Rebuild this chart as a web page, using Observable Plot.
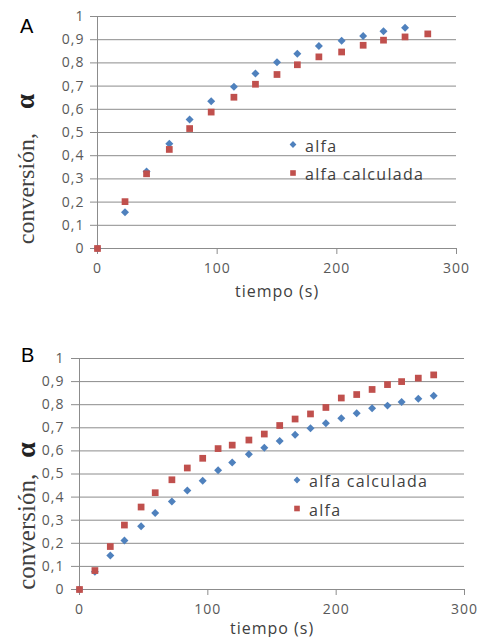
<!DOCTYPE html>
<html>
<head>
<meta charset="utf-8">
<script src="https://cdn.jsdelivr.net/npm/d3@7"></script>
<script src="https://cdn.jsdelivr.net/npm/@observablehq/plot@0.6"></script>
<style>
  html, body { margin: 0; padding: 0; background: #fff; }
  #root { position: relative; width: 480px; height: 637px; overflow: hidden; background: #fff; }
  .panel { position: absolute; left: 0; }
  #overlay { position: absolute; left: 0; top: 0; pointer-events: none; }
</style>
</head>
<body>
<div id="root">
  <div id="panelA" class="panel" style="top:0px"></div>
  <div id="panelB" class="panel" style="top:330px"></div>
  <svg id="overlay" width="480" height="637"></svg>
</div>
<script>
// ---------- data ----------
// Panel A
const timesA = [0, 23, 41, 60, 77, 95, 114, 132, 150, 167, 185, 204, 222, 239, 257, 276];
const alfaA = [0, 0.156, 0.332, 0.451, 0.556, 0.635, 0.697, 0.754, 0.803, 0.839, 0.873, 0.895, 0.916, 0.936, 0.951];
const alfaCalcA = [0, 0.202, 0.322, 0.427, 0.517, 0.588, 0.652, 0.708, 0.750, 0.792, 0.826, 0.847, 0.876, 0.898, 0.912, 0.925];
// Panel B
const timesB = [0, 12, 24, 35, 48, 59, 72, 84, 96, 108, 119, 132, 144, 156, 168, 180, 192, 204, 216, 228, 240, 251, 264, 276];
const alfaCalcB = [0, 0.077, 0.147, 0.212, 0.274, 0.331, 0.381, 0.429, 0.471, 0.516, 0.550, 0.585, 0.614, 0.643, 0.670, 0.698, 0.720, 0.741, 0.763, 0.785, 0.796, 0.812, 0.826, 0.839];
const alfaB = [0, 0.082, 0.186, 0.279, 0.357, 0.419, 0.475, 0.526, 0.568, 0.610, 0.625, 0.647, 0.673, 0.710, 0.738, 0.760, 0.788, 0.829, 0.844, 0.866, 0.887, 0.900, 0.915, 0.929];
// Axes
const xTicks = [0, 100, 200, 300];
const yTicks = [0, 0.1, 0.2, 0.3, 0.4, 0.5, 0.6, 0.7, 0.8, 0.9, 1];
const xLabel = "tiempo (s)";
const yLabel = "conversión,";
const yLabelSymbol = "α";
const legendA = ["alfa", "alfa calculada"];
const legendB = ["alfa calculada", "alfa"];
const panelLetters = ["A", "B"];

// ---------- style ----------
const BLUE = "#4F81BD";
const RED = "#C0504D";
const GRID = "#8c8c8c";
const TICKTXT = "#595959";
const LABTXT = "#404040";
const fmt = d => String(d).replace(".", ",");

function toRows(times, vals) { return vals.map((v, i) => ({t: times[i], v})); }

function makePanel({height, marginLeft, marginRight, marginTop, marginBottom, tickSizeY, tickPadY, labelOffset, blue, red}) {
  return Plot.plot({
    width: 480,
    height,
    marginLeft, marginRight, marginTop, marginBottom,
    style: {fontFamily: "'Open Sans', sans-serif", fontSize: "14px", letterSpacing: "1px", background: "#fff", overflow: "visible"},
    x: {domain: [0, 300]},
    y: {domain: [0, 1]},
    marks: [
      Plot.gridY(yTicks, {stroke: GRID, strokeOpacity: 1, strokeWidth: 1}),
      Plot.ruleX([0], {stroke: GRID, strokeWidth: 1}),
      Plot.axisY(yTicks, {tickSize: tickSizeY, tickPadding: tickPadY, stroke: GRID, fill: TICKTXT, tickFormat: fmt, label: null}),
      Plot.axisX(xTicks, {tickSize: 6, tickPadding: 9, stroke: GRID, fill: TICKTXT, tickFormat: fmt, label: null}),
      Plot.axisX([], {tickSize: 0, label: xLabel, labelAnchor: "center", labelArrow: "none", labelOffset, fontSize: 16, fill: LABTXT}),
      Plot.dot(blue, {x: "t", y: "v", symbol: "diamond2", r: 3.6, fill: BLUE, stroke: "none"}),
      Plot.dot(red, {x: "t", y: "v", symbol: "square", r: 3.8, fill: RED, stroke: "none"})
    ]
  });
}

const plotA = makePanel({
  height: 310, marginLeft: 97, marginRight: 24, marginTop: 16, marginBottom: 62,
  tickSizeY: 7, tickPadY: 6, labelOffset: 48,
  blue: toRows(timesA, alfaA), red: toRows(timesA, alfaCalcA)
});
document.getElementById("panelA").appendChild(plotA);

const plotB = makePanel({
  height: 307, marginLeft: 79, marginRight: 16, marginTop: 28, marginBottom: 48,
  tickSizeY: 8, tickPadY: 7, labelOffset: 44,
  blue: toRows(timesB, alfaCalcB), red: toRows(timesB, alfaB)
});
document.getElementById("panelB").appendChild(plotB);

// ---------- overlay: panel letters, y titles, legends ----------
const ov = d3.select("#overlay");
ov.append("text").attr("x", 20).attr("y", 33).text(panelLetters[0])
  .attr("font-family", "'Liberation Sans', Arial, sans-serif").attr("font-size", 20).attr("fill", "#000");
ov.append("text").attr("x", 21).attr("y", 362).text(panelLetters[1])
  .attr("font-family", "'Liberation Sans', Arial, sans-serif").attr("font-size", 20).attr("fill", "#000");

function yTitle(cx, cy, size, gap) {
  const t = ov.append("text")
    .attr("transform", `translate(${cx},${cy}) rotate(-90)`)
    .attr("text-anchor", "middle")
    .attr("font-family", "'Liberation Serif', 'Times New Roman', serif")
    .attr("font-size", size).attr("fill", "#404040");
  t.append("tspan").text(yLabel);
  t.append("tspan").attr("dx", gap).attr("font-weight", "bold").attr("font-size", size + 3).attr("fill", "#222").text(yLabelSymbol);
}
yTitle(34, 169, 24, 24);
yTitle(35, 516, 25, 16);

function legend(x, y, labels, symbols) {
  labels.forEach((lab, i) => {
    const cy = y + i * 28.5;
    if (symbols[i] === "diamond") {
      ov.append("path").attr("d", `M${x},${cy - 3.4}L${x + 3.4},${cy}L${x},${cy + 3.4}L${x - 3.4},${cy}Z`).attr("fill", BLUE);
    } else {
      ov.append("rect").attr("x", x - 2.8).attr("y", cy - 2.8).attr("width", 5.6).attr("height", 5.6).attr("fill", RED);
    }
    ov.append("text").attr("x", x + 12).attr("y", cy + 7)
      .attr("font-family", "'Open Sans', sans-serif").attr("font-size", 16)
      .style("letter-spacing", "1.3px").attr("fill", LABTXT).text(lab);
  });
}
legend(293, 144.5, legendA, ["diamond", "square"]);
legend(297, 480, legendB, ["diamond", "square"]);
</script>
</body>
</html>
